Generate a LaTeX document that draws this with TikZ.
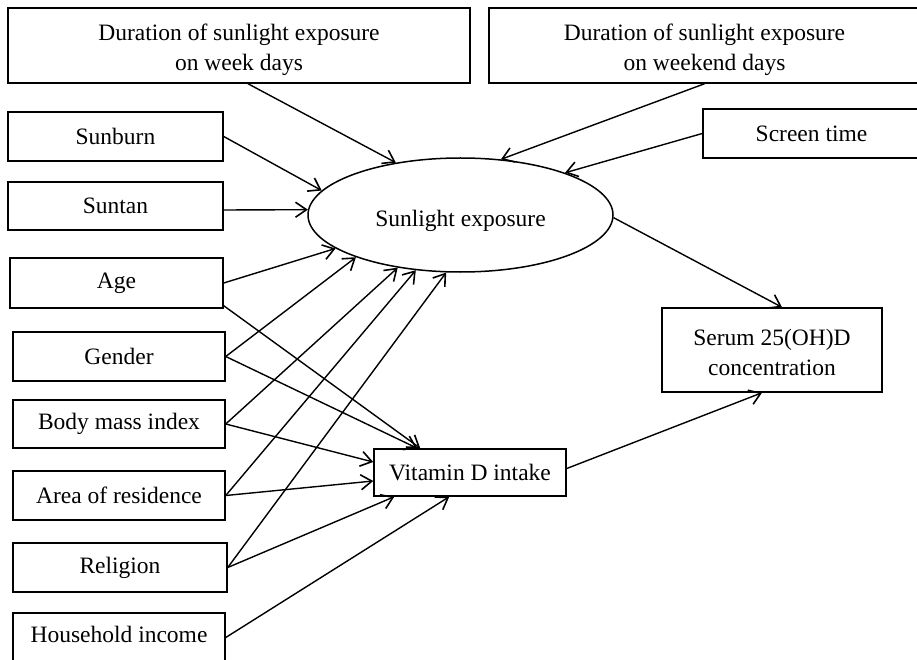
\documentclass[tikz,border=0pt]{standalone}
\usepackage{fontspec}
\setmainfont{Liberation Serif}
\usetikzlibrary{arrows.meta,shapes.geometric,calc}
\begin{document}
\begin{tikzpicture}[x=1pt,y=-1pt,
  font=\fontsize{23.5}{30}\selectfont,
  box/.style={draw,line width=1.5pt,rectangle,inner sep=0pt,align=center},
  txt/.style={inner sep=0pt,align=center},
  arr/.style={line width=1.4pt,-{Straight Barb[length=11pt,width=15pt,line width=1.6pt]}}]
\useasboundingbox (0,0) rectangle (917,660);
% boxes: centre (x,y), size w x h
\node[box,minimum width=462pt,minimum height=75pt] (week) at (239,45.5) {};
\node[txt] (weektxt) at ([yshift=-4pt]week.center) {Duration of sunlight exposure\\on week days};
\node[box,minimum width=431pt,minimum height=75pt] (weekend) at (704.5,45.5) {};
\node[txt] (weekendtxt) at ([yshift=-4pt]weekend.center) {Duration of sunlight exposure\\on weekend days};
\node[box,minimum width=215pt,minimum height=49pt] (sunburn) at (115.5,136.5) {Sunburn};
\node[box,minimum width=215pt,minimum height=48pt] (suntan) at (115.5,206) {Suntan};
\node[box,minimum width=217pt,minimum height=49pt] (screen) at (811.5,133.5) {Screen time};
\node[box,minimum width=213pt,minimum height=50pt] (age) at (116.5,283) {Age};
\node[box,minimum width=212pt,minimum height=49pt] (gender) at (119,356.5) {Gender};
\node[box,minimum width=212pt,minimum height=48pt] (bmi) at (119,424) {Body mass index};
\node[box,minimum width=212pt,minimum height=49pt] (area) at (119,495.5) {Area of residence};
\node[box,minimum width=214pt,minimum height=49pt] (religion) at (120,567.5) {Religion};
\node[box,minimum width=212pt,minimum height=49pt] (income) at (119,637.5) {};
\node[txt] (incometxt) at ([yshift=3pt]income.center) {Household income};
\node[box,minimum width=192pt,minimum height=47pt] (vit) at (470,472.5) {Vitamin D intake};
\node[box,minimum width=220pt,minimum height=84pt] (serum) at (772,350) {};
\node[txt] (serumtxt) at ([yshift=-2pt]serum.center) {Serum 25(OH)D\\concentration};
\node[draw,line width=1.5pt,ellipse,inner sep=0pt,minimum width=305pt,minimum height=114pt] (sun) at (460.5,215) {};
\node[txt] (suntxt) at ([yshift=-6pt]sun.center) {Sunlight exposure};
% arrows into sunlight exposure
\draw[arr] ([xshift=9pt]week.south) -- (sun.141);
\draw[arr] (weekend.south) -- (sun.54);
\draw[arr] (screen.west) -- (sun.22.8);
\draw[arr] (sunburn.east) -- (sun.170.7);
\draw[arr] ([yshift=-4pt]suntan.east) -- (sun.178.1);
\draw[arr] (age.east) -- (sun.195.6);
\draw[arr] (gender.east) -- (sun.202.2);
\draw[arr] (bmi.east) -- (sun.220.3);
\draw[arr] (area.east) -- (sun.231.9);
\draw[arr] (religion.east) -- (sun.256.9);
% arrows into vitamin D intake
\draw[arr] ([yshift=3pt]age.south east) -- ($(vit.north west)+(47,0)$);
\draw[arr] (gender.east) -- ($(vit.north west)+(44,0)$);
\draw[arr] (bmi.east) -- ([yshift=10.5pt]vit.west);
\draw[arr] (area.east) -- ([yshift=-8.5pt]vit.west);
\draw[arr] (religion.east) -- ($(vit.south west)+(21,0)$);
\draw[arr] (income.east) -- ($(vit.south west)+(76,0)$);
% arrows into serum
\draw[arr] (sun.359) -- ([xshift=10pt]serum.north);
\draw[arr] ([yshift=4pt]vit.east) -- ([xshift=-10pt]serum.south);
\end{tikzpicture}
\end{document}
